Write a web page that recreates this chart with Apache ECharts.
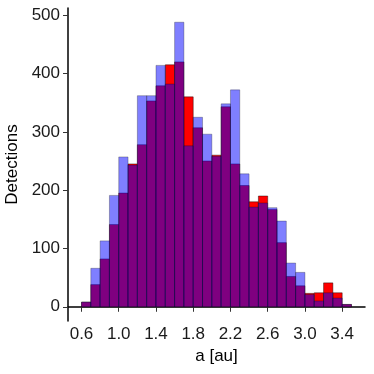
<!DOCTYPE html>
<html>
<head>
<meta charset="utf-8">
<script src="https://cdn.jsdelivr.net/npm/echarts@6/dist/echarts.min.js"></script>
<style>
  html, body { margin: 0; padding: 0; background: #fff; }
  #chart { width: 374px; height: 374px; }
</style>
</head>
<body>
<div id="chart"></div>
<script>
// bin left edges (au), width 0.1
var binStart = [0.6, 0.7, 0.8, 0.9, 1.0, 1.1, 1.2, 1.3, 1.4, 1.5, 1.6, 1.7, 1.8, 1.9, 2.0,
    2.1, 2.2, 2.3, 2.4, 2.5, 2.6, 2.7, 2.8, 2.9, 3.0, 3.1, 3.2, 3.3, 3.4];
var binWidth = 0.1;
var redCounts = [8, 38, 82, 141, 195, 245, 278, 353, 379, 415, 420, 360, 307, 250, 260,
    343, 245, 208, 180, 190, 167, 110, 52, 36, 23, 24, 41, 24, 4];
var blueCounts = [8, 66, 113, 191, 257, 243, 362, 362, 414, 382, 488, 276, 325, 296, 258,
    348, 372, 228, 171, 178, 170, 147, 75, 59, 21, 10, 24, 15, 4];
var xTicks = [0.6, 1.0, 1.4, 1.8, 2.2, 2.6, 3.0, 3.4];
var yTicks = [0, 100, 200, 300, 400, 500];

var chart = echarts.init(document.getElementById('chart'));
var font = '"Liberation Sans", Arial, sans-serif';

function toData(counts) {
    return counts.map(function (c, i) {
        return [binStart[i], binStart[i] + binWidth, c];
    });
}

function histItem(fill, stroke) {
    return function (params, api) {
        var p0 = api.coord([api.value(0), api.value(2)]);
        var p1 = api.coord([api.value(1), 0]);
        return {
            type: 'rect',
            shape: { x: p0[0], y: p0[1], width: p1[0] - p0[0], height: p1[1] - p0[1] },
            style: { fill: fill, stroke: stroke, lineWidth: 0.6 }
        };
    };
}

var option = {
    animation: false,
    grid: { left: 68, right: 9, top: 8, bottom: 53, outerBoundsMode: 'none', containLabel: false },
    xAxis: {
        type: 'value',
        min: 0.455,
        max: 3.645,
        name: 'a [au]',
        nameLocation: 'middle',
        nameGap: 25,
        nameTextStyle: { fontFamily: font, fontSize: 17, color: '#000' },
        axisLine: { lineStyle: { color: '#000', width: 1.5 } },
        axisTick: { show: true, length: 5, customValues: xTicks, lineStyle: { color: '#333' } },
        axisLabel: {
            customValues: xTicks,
            formatter: function (v) { return v.toFixed(1); },
            fontFamily: font, fontSize: 17, color: '#1a1a1a', margin: 5
        },
        splitLine: { show: false }
    },
    yAxis: {
        type: 'value',
        min: -24.4,
        max: 512.4,
        name: 'Detections',
        nameLocation: 'middle',
        nameGap: 43,
        nameTextStyle: { fontFamily: font, fontSize: 17, color: '#000' },
        axisLine: { show: true, lineStyle: { color: '#000', width: 1.5 } },
        axisTick: { show: true, length: 5, customValues: yTicks, lineStyle: { color: '#333' } },
        axisLabel: {
            customValues: yTicks,
            fontFamily: font, fontSize: 17, color: '#1a1a1a', margin: 8
        },
        splitLine: { show: false }
    },
    series: [
        {
            name: 'red',
            type: 'custom',
            renderItem: histItem('#ff0000', 'rgba(0,0,0,0.7)'),
            encode: { x: [0, 1], y: 2 },
            data: toData(redCounts)
        },
        {
            name: 'blue',
            type: 'custom',
            renderItem: histItem('rgba(0,0,255,0.5)', 'rgba(0,0,0,0.45)'),
            encode: { x: [0, 1], y: 2 },
            data: toData(blueCounts)
        }
    ]
};

chart.setOption(option);
</script>
</body>
</html>
